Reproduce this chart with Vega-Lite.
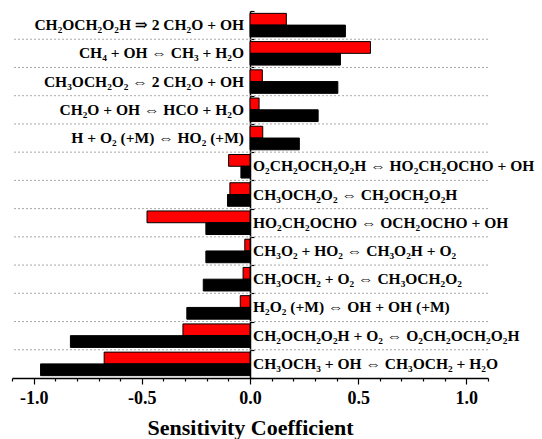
{
  "$schema": "https://vega.github.io/schema/vega-lite/v6.json",
  "width": 476,
  "height": 367,
  "autosize": "none",
  "padding": {"left": 12, "top": 11, "right": 54, "bottom": 61},
  "background": "white",
  "config": {
    "view": {"stroke": null},
    "font": "Liberation Serif",
    "axis": {"labelOverlap": false, "labelFlush": false}
  },
  "data": {
    "values": [
      {"reaction": "CH₂OCH₂O₂H ⇒ 2 CH₂O + OH", "series": "red", "value": 0.168},
      {"reaction": "CH₂OCH₂O₂H ⇒ 2 CH₂O + OH", "series": "black", "value": 0.441},
      {"reaction": "CH₄ + OH ⇔ CH₃ + H₂O", "series": "red", "value": 0.557},
      {"reaction": "CH₄ + OH ⇔ CH₃ + H₂O", "series": "black", "value": 0.418},
      {"reaction": "CH₃OCH₂O₂ ⇔ 2 CH₂O + OH", "series": "red", "value": 0.057},
      {"reaction": "CH₃OCH₂O₂ ⇔ 2 CH₂O + OH", "series": "black", "value": 0.406},
      {"reaction": "CH₂O + OH ⇔ HCO + H₂O", "series": "red", "value": 0.042},
      {"reaction": "CH₂O + OH ⇔ HCO + H₂O", "series": "black", "value": 0.315},
      {"reaction": "H + O₂ (+M) ⇔ HO₂ (+M)", "series": "red", "value": 0.059},
      {"reaction": "H + O₂ (+M) ⇔ HO₂ (+M)", "series": "black", "value": 0.228},
      {"reaction": "O₂CH₂OCH₂O₂H ⇔ HO₂CH₂OCHO + OH", "series": "red", "value": -0.099},
      {"reaction": "O₂CH₂OCH₂O₂H ⇔ HO₂CH₂OCHO + OH", "series": "black", "value": -0.042},
      {"reaction": "CH₃OCH₂O₂ ⇔ CH₂OCH₂O₂H", "series": "red", "value": -0.093},
      {"reaction": "CH₃OCH₂O₂ ⇔ CH₂OCH₂O₂H", "series": "black", "value": -0.104},
      {"reaction": "HO₂CH₂OCHO ⇔ OCH₂OCHO + OH", "series": "red", "value": -0.476},
      {"reaction": "HO₂CH₂OCHO ⇔ OCH₂OCHO + OH", "series": "black", "value": -0.204},
      {"reaction": "CH₃O₂ + HO₂ ⇔ CH₃O₂H + O₂", "series": "red", "value": -0.024},
      {"reaction": "CH₃O₂ + HO₂ ⇔ CH₃O₂H + O₂", "series": "black", "value": -0.204},
      {"reaction": "CH₃OCH₂ + O₂ ⇔ CH₃OCH₂O₂", "series": "red", "value": -0.032},
      {"reaction": "CH₃OCH₂ + O₂ ⇔ CH₃OCH₂O₂", "series": "black", "value": -0.216},
      {"reaction": "H₂O₂ (+M) ⇔ OH + OH (+M)", "series": "red", "value": -0.045},
      {"reaction": "H₂O₂ (+M) ⇔ OH + OH (+M)", "series": "black", "value": -0.292},
      {"reaction": "CH₂OCH₂O₂H + O₂ ⇔ O₂CH₂OCH₂O₂H", "series": "red", "value": -0.31},
      {"reaction": "CH₂OCH₂O₂H + O₂ ⇔ O₂CH₂OCH₂O₂H", "series": "black", "value": -0.83},
      {"reaction": "CH₃OCH₃ + OH ⇔ CH₃OCH₂ + H₂O", "series": "red", "value": -0.674},
      {"reaction": "CH₃OCH₃ + OH ⇔ CH₃OCH₂ + H₂O", "series": "black", "value": -0.968}
    ]
  },
  "encoding": {
    "y": {
      "field": "reaction",
      "type": "nominal",
      "sort": null,
      "scale": {"paddingInner": 0, "paddingOuter": 0},
      "axis": {
        "title": null,
        "labels": false,
        "grid": false,
        "domainColor": "black",
        "domainWidth": 1.5,
        "tickColor": "black",
        "tickWidth": 1.2,
        "tickSize": -4,
        "tickBand": "extent",
        "offset": -238
      }
    }
  },
  "layer": [
    {
      "transform": [{"filter": "datum.series === 'black'"}],
      "mark": {"type": "rule", "strokeDash": [2, 2], "color": "#a8a8a8", "strokeWidth": 1},
      "encoding": {
        "y": {"field": "reaction", "type": "nominal", "sort": null, "bandPosition": 0},
        "strokeOpacity": {
          "condition": {"test": "datum.reaction === 'CH₂OCH₂O₂H ⇒ 2 CH₂O + OH'", "value": 0},
          "value": 1
        }
      }
    },
    {
      "mark": {"type": "bar", "stroke": "#000000", "strokeWidth": 1},
      "encoding": {
        "x": {
          "field": "value",
          "type": "quantitative",
          "scale": {"domain": [-1.1, 1.1], "nice": false, "zero": false},
          "axis": {
            "title": "Sensitivity Coefficient",
            "titleFont": "Liberation Serif",
            "titleFontSize": 22,
            "titleFontWeight": "bold",
            "titleColor": "black",
            "titlePadding": 10,
            "values": [-1.1, -1.0, -0.9, -0.8, -0.7, -0.6, -0.5, -0.4, -0.3, -0.2, -0.1, 0, 0.1, 0.2, 0.3, 0.4, 0.5, 0.6, 0.7, 0.8, 0.9, 1.0, 1.1],
            "labelExpr": "abs(datum.value * 2 - round(datum.value * 2)) < 0.001 ? replace(format(datum.value, '.1f'), '−', '-') : ''",
            "labelFontSize": 18,
            "labelFontWeight": "bold",
            "labelColor": "black",
            "labelFlush": false,
            "labelOverlap": false,
            "labelPadding": 5,
            "grid": false,
            "domainColor": "black",
            "domainWidth": 1.5,
            "tickColor": "black",
            "tickWidth": 1.2,
            "tickSize": {
              "condition": {"test": "abs(datum.value * 2 - round(datum.value * 2)) < 0.001", "value": 6},
              "value": 3
            }
          }
        },
        "yOffset": {
          "field": "series",
          "type": "nominal",
          "sort": ["red", "black"],
          "scale": {"paddingInner": 0, "paddingOuter": 0.2}
        },
        "color": {
          "field": "series",
          "type": "nominal",
          "scale": {"domain": ["red", "black"], "range": ["#ff0000", "#000000"]},
          "legend": null
        }
      }
    },
    {
      "transform": [{"filter": "datum.series === 'black'"}],
      "mark": {
        "type": "text",
        "font": "'Liberation Serif', 'DejaVu Serif'",
        "fontWeight": "bold",
        "fontSize": 15.5,
        "color": "black",
        "baseline": "middle",
        "align": {"expr": "datum.value > 0 ? 'right' : 'left'"},
        "dx": {"expr": "datum.value > 0 ? -6 : 3"}
      },
      "encoding": {
        "x": {
          "datum": 0,
          "type": "quantitative",
          "axis": {
            "title": "Sensitivity Coefficient",
            "titleFont": "Liberation Serif",
            "titleFontSize": 22,
            "titleFontWeight": "bold",
            "titleColor": "black",
            "titlePadding": 10,
            "values": [-1.1, -1.0, -0.9, -0.8, -0.7, -0.6, -0.5, -0.4, -0.3, -0.2, -0.1, 0, 0.1, 0.2, 0.3, 0.4, 0.5, 0.6, 0.7, 0.8, 0.9, 1.0, 1.1],
            "labelExpr": "abs(datum.value * 2 - round(datum.value * 2)) < 0.001 ? replace(format(datum.value, '.1f'), '−', '-') : ''",
            "labelFontSize": 18,
            "labelFontWeight": "bold",
            "labelColor": "black",
            "labelFlush": false,
            "labelOverlap": false,
            "labelPadding": 5,
            "grid": false,
            "domainColor": "black",
            "domainWidth": 1.5,
            "tickColor": "black",
            "tickWidth": 1.2,
            "tickSize": {
              "condition": {"test": "abs(datum.value * 2 - round(datum.value * 2)) < 0.001", "value": 6},
              "value": 3
            }
          }
        },
        "text": {"field": "reaction"}
      }
    }
  ]
}
